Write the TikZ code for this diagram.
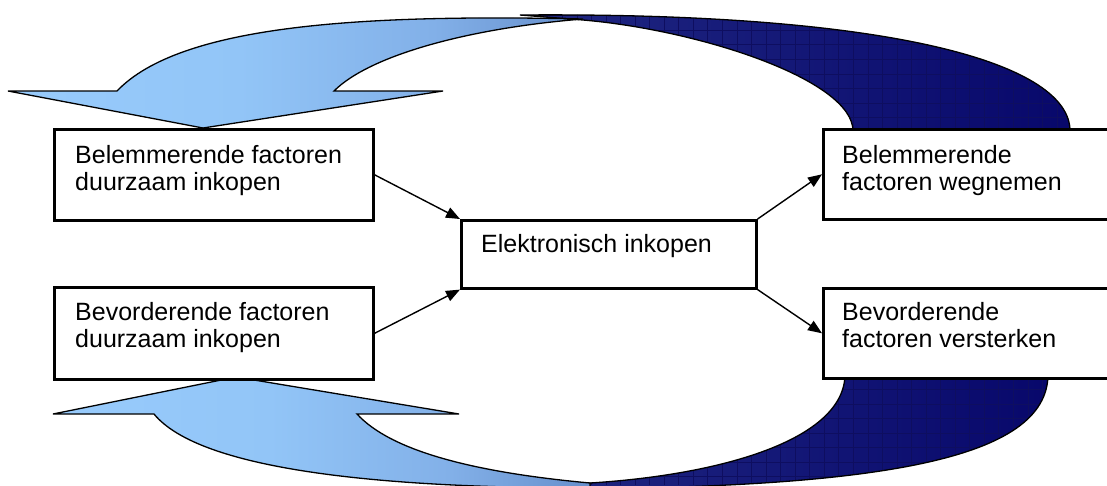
\documentclass[tikz,border=0pt]{standalone}
\usepackage{fontspec}
\setmainfont{Liberation Sans}
\usetikzlibrary{arrows.meta,calc}

% light front of the curved arrows
\pgfdeclarehorizontalshading{frontfill}{100bp}{%
  rgb(0bp)=(0.596,0.796,0.988);
  rgb(25bp)=(0.596,0.796,0.988);
  rgb(45bp)=(0.573,0.773,0.969);
  rgb(62bp)=(0.510,0.690,0.910);
  rgb(75bp)=(0.400,0.560,0.800);
  rgb(100bp)=(0.400,0.560,0.800)}
% dark back of the curved arrows
\pgfdeclarehorizontalshading{backfill}{100bp}{%
  rgb(0bp)=(0.125,0.155,0.510);
  rgb(25bp)=(0.125,0.155,0.510);
  rgb(75bp)=(0.030,0.030,0.420);
  rgb(100bp)=(0.030,0.030,0.420)}

\definecolor{gridnavy}{RGB}{14,14,96}

% tails of the two curved arrows
\newcommand{\toptailpath}{(520,15) .. controls (900,12) and (1070,65) .. (1070,131)
  -- (853,131) .. controls (853,80) and (700,30) .. (583,20) -- cycle}
\newcommand{\bottomtailpath}{(520,489) .. controls (880,490) and (1048,460) .. (1048,374)
  -- (845,374) .. controls (845,440) and (720,475) .. (590,483) -- cycle}

\tikzset{
  boxstyle/.style={draw, line width=2.6pt, fill=white, rectangle, inner sep=0pt, anchor=north west},
  txt/.style={anchor=north west, align=left, inner sep=0pt},
  link/.style={line width=1.4pt, -{Triangle[length=14pt,width=11pt]}},
  frontarrow/.style={shade, shading=frontfill, draw=black, line width=1.3pt},
  backarrow/.style={shade, shading=backfill},
  tailedge/.style={draw=black, line width=1.3pt},
  gridline/.style={draw=gridnavy, line width=0.5pt},
  every node/.style={font=\fontsize{25}{27.5}\selectfont}
}

\begin{document}
\begin{tikzpicture}[x=1pt,y=-1pt]
\useasboundingbox (0,0) rectangle (1107,485);
\clip (0,0) rectangle (1107,485);

% dark tails with their fine grid
\begin{scope}
  \path[backarrow] \toptailpath;
  \clip \toptailpath;
  \foreach \gx in {9.3,23.85,...,1107} {\draw[gridline] (\gx,0) -- (\gx,140);}
  \foreach \gy in {1,15.55,...,140} {\draw[gridline] (500,\gy) -- (1107,\gy);}
\end{scope}
\draw[tailedge] \toptailpath;

\begin{scope}
  \path[backarrow] \bottomtailpath;
  \clip \bottomtailpath;
  \foreach \gx in {9.3,23.85,...,1107} {\draw[gridline] (\gx,360) -- (\gx,485);}
  \foreach \gy in {360.2,374.75,...,490} {\draw[gridline] (500,\gy) -- (1107,\gy);}
\end{scope}
\draw[tailedge] \bottomtailpath;

% light fronts with the arrow heads
\path[frontarrow] (334,91) .. controls (370,55) and (470,28) .. (583,19)
  .. controls (360,14) and (180,25) .. (117,91)
  -- (8,91) -- (203,128) -- (443,91) -- cycle;
\path[frontarrow] (357,414) .. controls (390,450) and (470,472) .. (590,483)
  -- (590,488) .. controls (380,488) and (200,470) .. (154,414)
  -- (53,414) -- (236,377) -- (459,414) -- cycle;

% boxes
\node[boxstyle, minimum width=319pt, minimum height=91pt] (b1) at (53,128) {};
\node[boxstyle, minimum width=319pt, minimum height=92pt] (b2) at (53,286) {};
\node[boxstyle, minimum width=295pt, minimum height=68pt] (c) at (460,219) {};
\node[boxstyle, minimum width=310pt, minimum height=90pt] (r1) at (822,128) {};
\node[boxstyle, minimum width=310pt, minimum height=90pt] (r2) at (822,287) {};

\node[txt] (t1) at ($(b1.north west)+(22,17)$) {Belemmerende factoren\\duurzaam inkopen};
\node[txt] (t2) at ($(b2.north west)+(22,16)$) {Bevorderende factoren\\duurzaam inkopen};
\node[txt] (tc) at ($(c.north west)+(21,15)$) {Elektronisch inkopen};
\node[txt] (tr1) at ($(r1.north west)+(20,17)$) {Belemmerende\\factoren wegnemen};
\node[txt] (tr2) at ($(r2.north west)+(20,15)$) {Bevorderende\\factoren versterken};

% connectors
\draw[link] (b1.east) -- (c.north west);
\draw[link] (b2.east) -- (c.south west);
\draw[link] (c.north east) -- (r1.west);
\draw[link] (c.south east) -- (r2.west);
\end{tikzpicture}
\end{document}
